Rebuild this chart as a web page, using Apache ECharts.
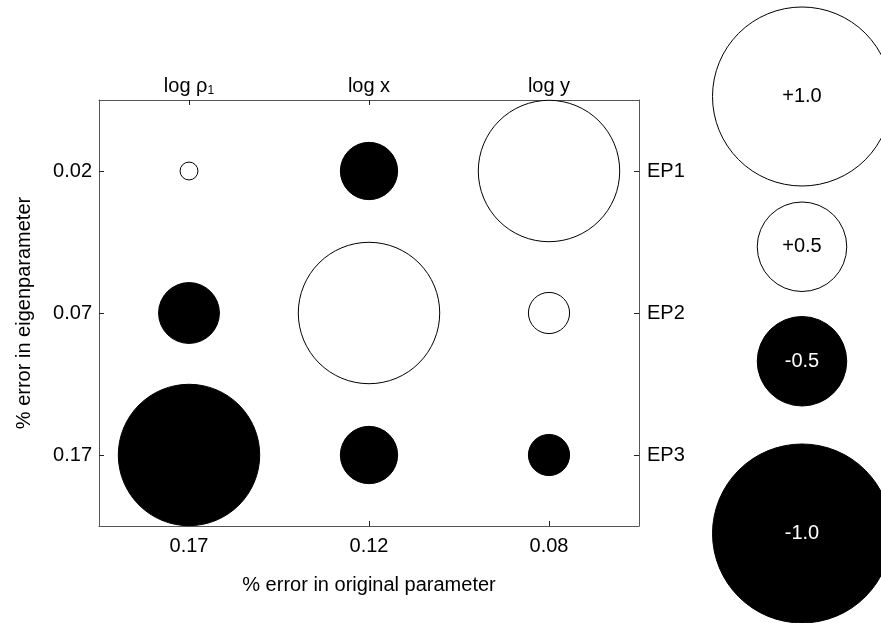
<!DOCTYPE html>
<html><head><meta charset="utf-8">
<script src="https://cdn.jsdelivr.net/npm/echarts@6/dist/echarts.min.js"></script>
<style>html,body{margin:0;padding:0;background:#fff}#c{width:881px;height:623px}</style>
</head><body><div id="c"></div>
<script>
// ---- data ----
const originalErrors = ['0.17', '0.12', '0.08'];          // bottom x tick labels
const parameterNames = ['log ρ_1', 'log x', 'log y'];    // top x tick labels
const eigenErrors = ['0.02', '0.07', '0.17'];             // left y tick labels
const eigenNames = ['EP1', 'EP2', 'EP3'];                 // right y tick labels
const ep1 = [0.10, -0.32, 0.79];
const ep2 = [-0.34, 0.79, 0.23];
const ep3 = [-0.79, -0.32, -0.23];
const keyValues = [1.0, 0.5, -0.5, -1.0];
const keyLabels = ['+1.0', '+0.5', '-0.5', '-1.0'];

// ---- layout / style ----
const FONT = "'Liberation Sans', Arial, Helvetica, sans-serif";
const FS = 20;
const PX_PER_UNIT = 179;           // circle diameter for |value| = 1
const KEY_TOP = 7;                 // top edge of first key circle
const KEY_GAPS = [16, 25, 38];     // blank space between key circles

const rows = [ep1, ep2, ep3];
const matrixData = [];
rows.forEach((row, r) => row.forEach((v, c) => matrixData.push([c, r, v])));

const keyData = [];
let cursor = KEY_TOP;
keyValues.forEach((v, i) => {
  const d = Math.abs(v) * PX_PER_UNIT;
  if (i > 0) cursor += KEY_GAPS[i - 1];
  keyData.push({
    value: [0.5, cursor + d / 2, v, keyLabels[i]],
    label: { color: v > 0 ? '#000' : '#fff' }
  });
  cursor += d;
});

const lineStyle = { color: '#555', width: 1 };
const tick = { show: true, inside: true, length: 5, alignWithLabel: true, lineStyle: { color: '#222' } };
const lbl = { color: '#000', fontSize: FS, fontFamily: FONT };
const bubbleStyle = {
  opacity: 1,
  color: (p) => p.value[2] > 0 ? '#fff' : '#000',
  borderColor: '#000', borderWidth: 1
};

const chart = echarts.init(document.getElementById('c'));
chart.setOption({
  animation: false,
  backgroundColor: '#fff',
  grid: [
    { left: 99, right: 242, top: 100, bottom: 97 },
    { left: 723, right: 0, top: 0, height: 623 }
  ],
  xAxis: [
    { gridIndex: 0, type: 'category', position: 'bottom', data: originalErrors,
      axisLine: { lineStyle }, axisTick: tick, splitLine: { show: false },
      axisLabel: Object.assign({ margin: 10 }, lbl),
      name: '% error in original parameter', nameLocation: 'middle', nameGap: 49,
      nameTextStyle: { color: '#000', fontSize: FS, fontFamily: FONT } },
    { gridIndex: 0, type: 'category', position: 'top', data: parameterNames,
      axisLine: { lineStyle }, axisTick: tick, splitLine: { show: false },
      axisLabel: Object.assign({ margin: 3,
        formatter: (s) => s.indexOf('_') >= 0 ? '{m|' + s.split('_')[0] + '}{s|' + s.split('_')[1] + '}' : '{m|' + s + '}',
        rich: { m: { fontSize: FS, fontFamily: FONT, color: '#000', lineHeight: 22 },
                s: { fontSize: 12, fontFamily: FONT, color: '#000', lineHeight: 6, verticalAlign: 'bottom' } }
      }, lbl) },
    { gridIndex: 1, type: 'value', min: 0, max: 1, show: false }
  ],
  yAxis: [
    { gridIndex: 0, type: 'category', position: 'left', inverse: true, data: eigenErrors,
      axisLine: { lineStyle }, axisTick: tick, splitLine: { show: false },
      axisLabel: Object.assign({ margin: 7 }, lbl),
      name: '% error in eigenparameter', nameLocation: 'middle', nameGap: 65,
      nameTextStyle: { color: '#000', fontSize: FS, fontFamily: FONT } },
    { gridIndex: 0, type: 'category', position: 'right', inverse: true, data: eigenNames,
      axisLine: { lineStyle }, axisTick: tick, splitLine: { show: false },
      axisLabel: Object.assign({ margin: 8 }, lbl) },
    { gridIndex: 1, type: 'value', min: 0, max: 623, inverse: true, show: false }
  ],
  series: [
    { type: 'scatter', xAxisIndex: 0, yAxisIndex: 0, data: matrixData, clip: false,
      symbol: 'circle',
      symbolSize: (v) => Math.abs(v[2]) * PX_PER_UNIT,
      itemStyle: bubbleStyle,
      emphasis: { disabled: true } },
    { type: 'scatter', xAxisIndex: 2, yAxisIndex: 2, data: keyData, clip: false,
      symbol: 'circle',
      symbolSize: (v) => Math.abs(v[2]) * PX_PER_UNIT,
      itemStyle: bubbleStyle,
      label: { show: true, position: 'inside', fontSize: FS, fontFamily: FONT,
        formatter: (p) => p.value[3] },
      emphasis: { disabled: true } }
  ]
});
</script></body></html>
